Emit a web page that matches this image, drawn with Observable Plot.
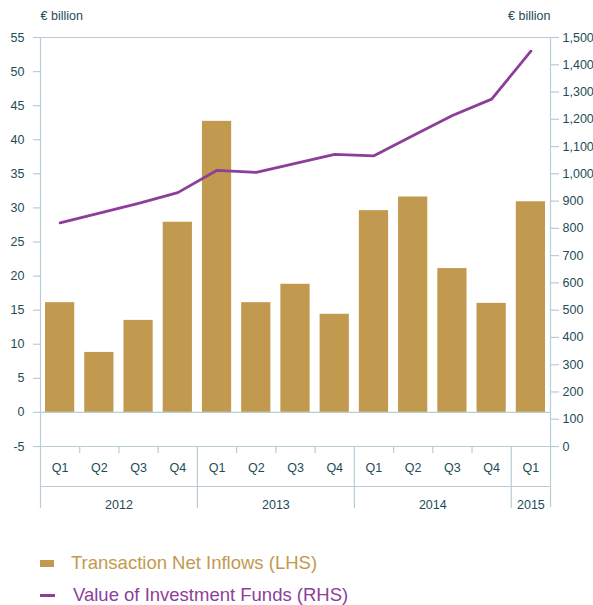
<!DOCTYPE html>
<html><head><meta charset="utf-8">
<script src="https://cdn.jsdelivr.net/npm/d3@7"></script>
<script src="https://cdn.jsdelivr.net/npm/@observablehq/plot@0.6"></script>
<style>
body{margin:0;background:#fff;font-family:"Liberation Sans",Arial,sans-serif;}
#chart svg{display:block;}
#legend{position:relative;height:85px;font-size:18.5px;}
.row{position:absolute;left:0;height:32px;line-height:32px;white-space:nowrap;}
.sw{position:absolute;}
.lab{position:absolute;top:0;}
</style></head><body>
<div id="chart"></div>
<div id="legend"></div>
<script>
const quarters = ["Q1","Q2","Q3","Q4","Q1","Q2","Q3","Q4","Q1","Q2","Q3","Q4","Q1"];
const years = ["2012","2013","2014","2015"];
const quartersPerYear = [4,4,4,1];
const netInflows = [16.1,8.8,13.5,27.9,42.7,16.1,18.8,14.4,29.6,31.6,21.1,16.0,30.9];
const fundValue = [820,856,892,931,1013,1005,1038,1071,1066,1141,1214,1274,1450];
const leftTicks = [-5,0,5,10,15,20,25,30,35,40,45,50,55];
const rightTicks = [0,100,200,300,400,500,600,700,800,900,1000,1100,1200,1300,1400,1500];
const unitLabel = "€ billion";
const seriesNames = ["Transaction Net Inflows (LHS)","Value of Investment Funds (RHS)"];

const barColor = "#c19a50", lineColor = "#8c3f99", axisColor = "#b9cdd5", textColor = "#1d4c58";
const leftDomain = [-5,55], rightDomain = [0,1500];
const toLeft = v => leftDomain[0] + (v - rightDomain[0]) * (leftDomain[1]-leftDomain[0]) / (rightDomain[1]-rightDomain[0]);
const fromLeft = v => Math.round(rightDomain[0] + (v - leftDomain[0]) * (rightDomain[1]-rightDomain[0]) / (leftDomain[1]-leftDomain[0]));

const data = quarters.map((q,i) => ({i, q, inflow: netInflows[i], value: fundValue[i]}));
let start = 0;
const yearData = years.map((y,k) => { const d = {year:y, start, end:start+quartersPerYear[k]}; start += quartersPerYear[k]; return d; });
const yearBounds = yearData.slice(0,-1).map(d => d.end);
const quarterBounds = d3.range(1, quarters.length).filter(b => !yearBounds.includes(b));

const fmt = d3.format(",");
const H = 520;
const chart = Plot.plot({
  width: 593, height: H,
  marginLeft: 40, marginRight: 43, marginTop: 37, marginBottom: H - 446,
  style: {fontFamily: '"Liberation Sans", Arial, sans-serif', fontSize: "12.5px", color: textColor, background: "#fff"},
  x: {domain: [0, quarters.length], axis: null},
  y: {domain: leftDomain, axis: null},
  marks: [
    Plot.rectY(data, {x1: "i", x2: d => d.i + 1, y1: 0, y2: "inflow", fill: barColor, insetLeft: 5, insetRight: 5}),
    Plot.ruleY([55, 0, -5], {x1: 0, x2: quarters.length, stroke: axisColor, strokeWidth: 1.2}),
    Plot.ruleY([-5], {x1: 0, x2: quarters.length, dy: 40, stroke: axisColor, strokeWidth: 1.2}),
    Plot.axisY({ticks: leftTicks, anchor: "left", tickSize: 7, tickPadding: 9, stroke: axisColor, strokeWidth: 1.2, fill: textColor, fontSize: 12.5, label: null, tickFormat: d => String(d)}),
    Plot.axisY({ticks: rightTicks.map(toLeft), anchor: "right", tickSize: 8, tickPadding: 4, stroke: axisColor, strokeWidth: 1.2, fill: textColor, fontSize: 12.5, label: null, tickFormat: d => fmt(fromLeft(d))}),
    Plot.ruleX([0], {y1: 55, y2: -5, insetBottom: -62, stroke: axisColor, strokeWidth: 1.2}),
    Plot.ruleX([quarters.length], {y1: 55, y2: -5, insetBottom: -61, stroke: axisColor, strokeWidth: 1.2}),
    Plot.ruleX(yearBounds, {y1: -5, y2: -5, insetBottom: -62, stroke: axisColor, strokeWidth: 1.2}),
    Plot.ruleX(quarterBounds, {y1: -5, y2: -5, insetBottom: -7, stroke: axisColor, strokeWidth: 1.2}),
    Plot.line(data, {x: d => d.i + 0.5, y: d => toLeft(d.value), stroke: lineColor, strokeWidth: 2.8}),
    Plot.text(data, {x: d => d.i + 0.5, y: -5, dy: 21, text: "q", fill: textColor, fontSize: 12.5}),
    Plot.text(yearData, {x: d => (d.start + d.end) / 2, y: -5, dy: 58, text: "year", fill: textColor, fontSize: 12.5}),
    Plot.text([unitLabel], {x: 0, y: 55, dy: -22, text: d => d, textAnchor: "start", fill: textColor, fontSize: 12.5}),
    Plot.text([unitLabel], {x: quarters.length, y: 55, dy: -22, text: d => d, textAnchor: "end", fill: textColor, fontSize: 12.5})
  ]
});
document.getElementById("chart").append(chart);

const legend = document.getElementById("legend");
const items = [
  {name: seriesNames[0], color: barColor, sw: {left:40, top:13, width:14, height:7}, textLeft: 71, top: 27},
  {name: seriesNames[1], color: lineColor, sw: {left:40, top:15, width:15, height:3}, textLeft: 73, top: 59}
];
for (const it of items) {
  const row = document.createElement("div");
  row.className = "row"; row.style.top = it.top + "px"; row.style.width = "593px";
  const sw = document.createElement("div");
  sw.className = "sw";
  Object.assign(sw.style, {left: it.sw.left+"px", top: it.sw.top+"px", width: it.sw.width+"px", height: it.sw.height+"px", background: it.color});
  const lab = document.createElement("div");
  lab.className = "lab"; lab.style.left = it.textLeft + "px"; lab.style.color = it.color;
  lab.textContent = it.name;
  row.append(sw, lab);
  legend.append(row);
}
</script>
</body></html>
